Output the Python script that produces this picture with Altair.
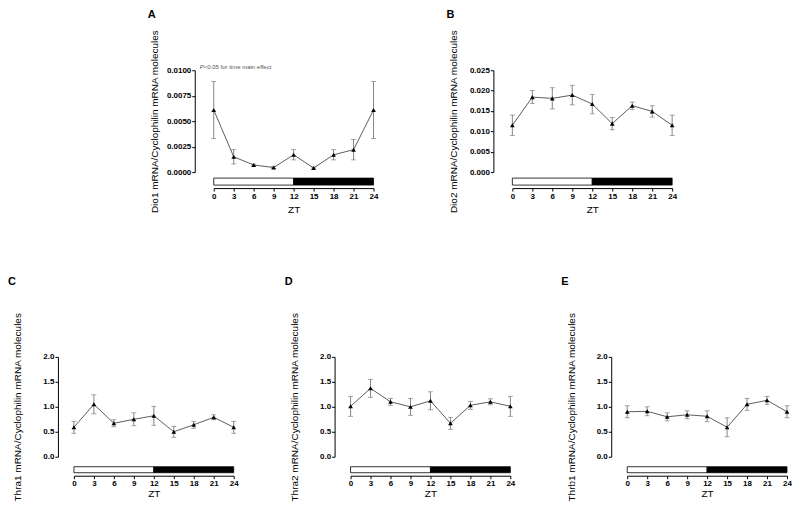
import altair as alt
import pandas as pd

ZT = [0, 3, 6, 9, 12, 15, 18, 21, 24]

dio1_mean = [0.0061, 0.0015, 0.0007, 0.00045, 0.0017, 0.0004, 0.0017, 0.0022, 0.0061]
dio1_sem = [0.0028, 0.0007, 0.0001, 0.0001, 0.0005, 0.0001, 0.0005, 0.0010, 0.0028]

dio2_mean = [0.0115, 0.0184, 0.0181, 0.0189, 0.0167, 0.0119, 0.0163, 0.0149, 0.0115]
dio2_sem = [0.0025, 0.0016, 0.0026, 0.0024, 0.0024, 0.0015, 0.0009, 0.0014, 0.0025]

thra1_mean = [0.59, 1.05, 0.67, 0.75, 0.82, 0.50, 0.64, 0.79, 0.59]
thra1_sem = [0.12, 0.19, 0.07, 0.13, 0.19, 0.11, 0.07, 0.05, 0.12]

thra2_mean = [1.01, 1.37, 1.10, 1.00, 1.12, 0.67, 1.03, 1.10, 1.01]
thra2_sem = [0.20, 0.18, 0.07, 0.17, 0.18, 0.12, 0.08, 0.06, 0.20]

thrb1_mean = [0.90, 0.91, 0.80, 0.84, 0.81, 0.59, 1.05, 1.13, 0.90]
thrb1_sem = [0.12, 0.09, 0.08, 0.08, 0.11, 0.19, 0.12, 0.08, 0.12]

phase_start = [0, 12]
phase_end = [12, 24]
phase_fill = ["white", "black"]

FONT = "Liberation Sans"


def panel(letter, ylabel, mean, sem, ymax, yvals, fmt, height,
          bar_top, bar_bot, xoff, yoff, letter_y, xtitle_pad,
          annotate=False):
    df = pd.DataFrame({
        "ZT": ZT,
        "mean": mean,
        "lo": [m - s for m, s in zip(mean, sem)],
        "hi": [m + s for m, s in zip(mean, sem)],
    })
    phases = pd.DataFrame({"start": phase_start, "end": phase_end, "fill": phase_fill})
    one = pd.DataFrame({"t": [0]})

    xscale = alt.Scale(domain=[0, 24], nice=False, zero=False)
    yscale = alt.Scale(domain=[0, ymax], nice=False)
    xaxis = alt.Axis(values=ZT, title="ZT", offset=xoff, tickSize=3, labelPadding=1,
                     titlePadding=xtitle_pad, labelFontWeight="bold", labelFontSize=8,
                     titleFontSize=10, titleFontWeight="normal", labelFlush=False,
                     domainColor="black", tickColor="black", labelColor="black",
                     titleColor="black", grid=False, labelFont=FONT, titleFont=FONT)
    yaxis = alt.Axis(values=yvals, format=fmt, title=ylabel, offset=yoff, tickSize=3,
                     labelPadding=1, minExtent=30, maxExtent=30, titlePadding=5,
                     labelFontWeight="bold", labelFontSize=8, titleFontSize=10,
                     titleFontWeight="normal", domainColor="black", tickColor="black",
                     labelColor="black", titleColor="black", grid=False,
                     labelFont=FONT, titleFont=FONT)

    base = alt.Chart(df)
    x = alt.X("ZT:Q", scale=xscale, axis=xaxis)
    y = alt.Y("mean:Q", scale=yscale, axis=yaxis)

    rect = alt.Chart(phases).mark_rect(stroke="black", strokeWidth=0.8).encode(
        x=alt.X("start:Q", scale=xscale, axis=xaxis),
        x2="end:Q",
        y=alt.value(height + bar_top),
        y2=alt.value(height + bar_bot),
        fill=alt.Color("fill:N", scale=None),
    )
    err = base.mark_errorbar(ticks={"size": 5}, color="#666666", thickness=0.8).encode(
        x=x,
        y=alt.Y("lo:Q", scale=yscale, axis=yaxis),
        y2="hi:Q",
    )
    line = base.mark_line(color="#333333", strokeWidth=0.8).encode(x=x, y=y)
    pts = base.mark_point(shape="triangle-up", filled=True, color="black",
                          size=22, opacity=1).encode(x=x, y=y)
    lab = alt.Chart(one).mark_text(
        align="left", baseline="bottom", fontSize=11, fontWeight="bold",
        color="black", font=FONT
    ).encode(x=alt.value(-66), y=alt.value(letter_y), text=alt.value(letter))
    layers = [rect, err, line, pts, lab]
    if annotate:
        p_txt = alt.Chart(one).mark_text(
            align="left", baseline="alphabetic", fontSize=6, fontStyle="italic",
            color="#555555", font=FONT
        ).encode(x=alt.value(-14), y=alt.value(-1), text=alt.value("P"))
        rest = alt.Chart(one).mark_text(
            align="left", baseline="alphabetic", fontSize=6,
            color="#555555", font=FONT
        ).encode(x=alt.value(-10), y=alt.value(-1),
                 text=alt.value("<0.05 for time main effect"))
        layers += [p_txt, rest]

    return alt.layer(*layers).properties(width=160, height=height)


y_small = [0, 0.5, 1.0, 1.5, 2.0]

A = panel("A", "Dio1 mRNA/Cyclophilin mRNA molecules", dio1_mean, dio1_sem,
          0.01, [0, 0.0025, 0.005, 0.0075, 0.01], ".4f", 102, 6, 13, 16, 19, -50, 4,
          annotate=True)
B = panel("B", "Dio2 mRNA/Cyclophilin mRNA molecules", dio2_mean, dio2_sem,
          0.025, [0, 0.005, 0.01, 0.015, 0.02, 0.025], ".3f", 102, 6, 13, 16, 19, -50, 4)
C = panel("C", "Thra1 mRNA/Cyclophilin mRNA molecules", thra1_mean, thra1_sem,
          2.0, y_small, ".1f", 100, 10, 16, 19, 16, -70, 1)
D = panel("D", "Thra2 mRNA/Cyclophilin mRNA molecules", thra2_mean, thra2_sem,
          2.0, y_small, ".1f", 100, 10, 16, 19, 16, -70, 1)
E = panel("E", "Thrb1 mRNA/Cyclophilin mRNA molecules", thrb1_mean, thrb1_sem,
          2.0, y_small, ".1f", 100, 10, 16, 19, 16, -70, 1)

spacer = alt.Chart(pd.DataFrame({"t": [0]})).mark_point(opacity=0).encode(
    x=alt.value(0), y=alt.value(0)
).properties(width=1, height=102)

top = alt.hconcat(spacer, A, B, spacing=139, bounds="flush")
bottom = alt.hconcat(C, D, E, spacing=117, bounds="flush")

chart = alt.vconcat(top, bottom, spacing=287, bounds="flush").properties(
    padding={"left": 0, "top": 1, "right": 0, "bottom": 0}
).configure(font=FONT).configure_view(strokeWidth=0, stroke=None)

chart.save("out.html", embed_options={"renderer": "svg", "actions": False})
